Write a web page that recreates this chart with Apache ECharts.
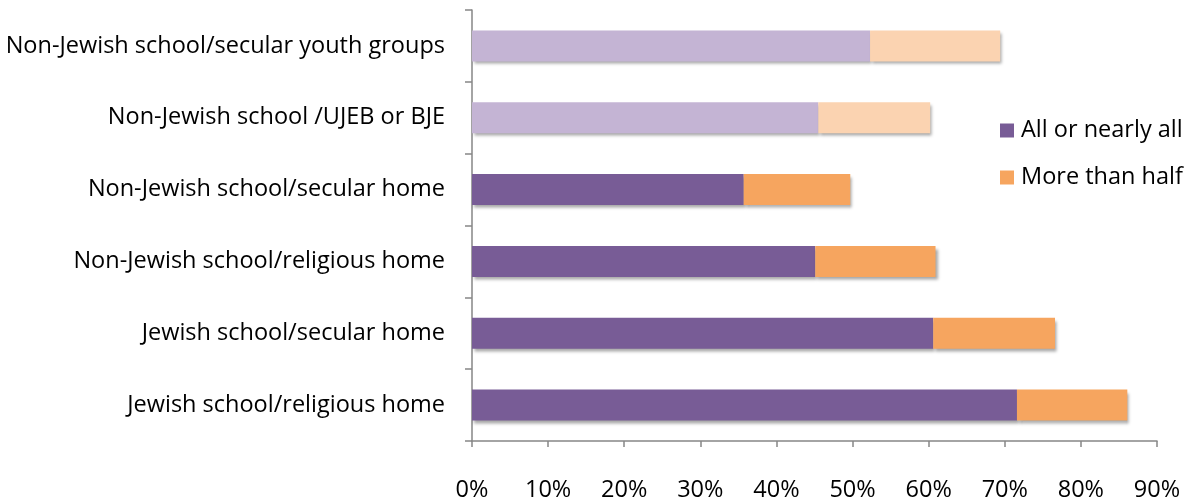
<!DOCTYPE html>
<html>
<head>
<meta charset="utf-8">
<script src="https://cdn.jsdelivr.net/npm/echarts@6/dist/echarts.min.js"></script>
<style>
html,body{margin:0;padding:0;background:#fff;}
#chart{width:1193px;height:502px;}
</style>
</head>
<body>
<div id="chart"></div>
<script>
const categories = [
  "Non-Jewish school/secular youth groups",
  "Non-Jewish school /UJEB or BJE",
  "Non-Jewish school/secular home",
  "Non-Jewish school/religious home",
  "Jewish school/secular home",
  "Jewish school/religious home"
];
const allOrNearlyAll = [52.3, 45.5, 35.7, 45.1, 60.6, 71.6];
const moreThanHalf = [17.1, 14.7, 14.0, 15.8, 16.0, 14.5];
const xTicks = [0, 10, 20, 30, 40, 50, 60, 70, 80, 90];
const faded = [true, true, false, false, false, false];

const purple = '#785C96', purpleLight = '#C4B4D4';
const orange = '#F6A55F', orangeLight = '#FBD3B1';
const font = '"Open Sans", Lato, sans-serif';
const shadow = {shadowColor:'rgba(0,0,0,0.35)', shadowBlur:3, shadowOffsetX:2, shadowOffsetY:3};

const chart = echarts.init(document.getElementById('chart'));
chart.setOption({
  animation:false,
  backgroundColor:'#fff',
  grid:{left:472, right:36, top:10, bottom:60, containLabel:false},
  legend:{
    orient:'vertical', left:995, top:113, itemWidth:14, itemHeight:14, itemGap:22,
    icon:'rect',
    textStyle:{fontFamily:font, fontSize:23.5, color:'#000', lineHeight:25, padding:[0,0,0,2]},
    data:['All or nearly all','More than half']
  },
  xAxis:{
    type:'value', min:xTicks[0], max:xTicks[xTicks.length-1], interval:10,
    axisLine:{show:true, lineStyle:{color:'#868686', width:1.5}},
    axisTick:{show:true, length:6, lineStyle:{color:'#868686', width:1.5}},
    splitLine:{show:false},
    axisLabel:{formatter:'{value}%', fontFamily:font, fontSize:23.5, color:'#000', margin:37}
  },
  yAxis:{
    type:'category', inverse:true, data:categories,
    axisLine:{show:true, lineStyle:{color:'#868686', width:1.5}},
    axisTick:{show:true, length:7, lineStyle:{color:'#868686', width:1.5}},
    axisLabel:{fontFamily:font, fontSize:23.5, color:'#000', margin:27}
  },
  series:[
    {
      name:'All or nearly all', type:'bar', stack:'s', barWidth:31,
      itemStyle:Object.assign({color:purple}, shadow),
      data:allOrNearlyAll.map((v,i)=>({value:v, itemStyle:{color: faded[i]?purpleLight:purple}}))
    },
    {
      name:'More than half', type:'bar', stack:'s', barWidth:31,
      itemStyle:Object.assign({color:orange}, shadow),
      data:moreThanHalf.map((v,i)=>({value:v, itemStyle:{color: faded[i]?orangeLight:orange}}))
    }
  ]
});
</script>
</body>
</html>
